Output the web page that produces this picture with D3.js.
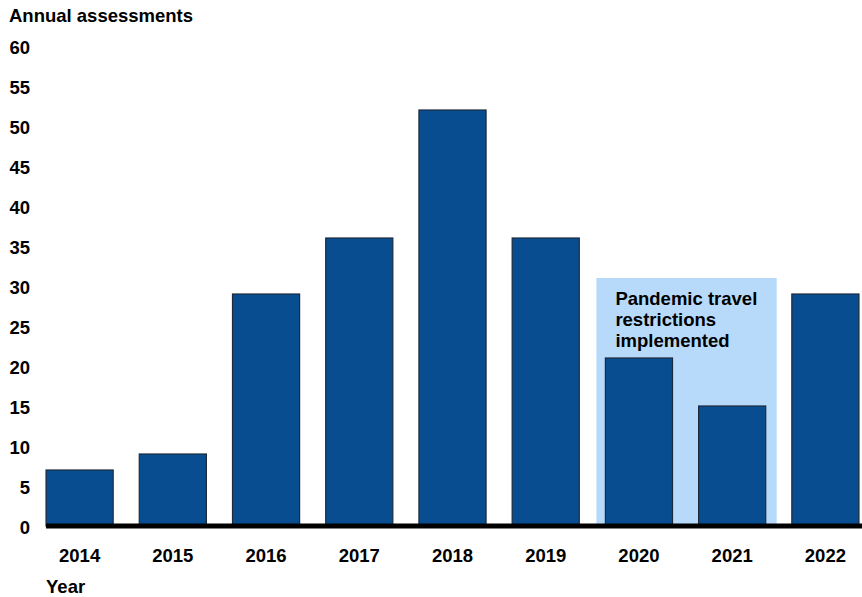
<!DOCTYPE html>
<html>
<head>
<meta charset="utf-8">
<script src="https://cdn.jsdelivr.net/npm/d3@7"></script>
<style>
  body { margin: 0; background: #fff; }
  text { font-family: "Liberation Sans", Arial, sans-serif; font-weight: bold; fill: #000; }
</style>
</head>
<body>
<svg id="chart"></svg>
<script>
var years = ['2014', '2015', '2016', '2017', '2018', '2019', '2020', '2021', '2022']
var assessments = [7, 9, 29, 36, 52, 36, 21, 15, 29]
var yTicks = [0, 5, 10, 15, 20, 25, 30, 35, 40, 45, 50, 55, 60]
var pandemicYears = ['2020', '2021']
var pandemicLabel = ['Pandemic travel', 'restrictions', 'implemented']
var pandemicTop = 31

var width = 862, height = 597
var fontSize = '18.5px'
var svg = d3.select('#chart')
    .attr('width', width)
    .attr('height', height)

var xScale = d3.scaleBand()
    .domain(years)
    .range([33, 872])
    .paddingInner(0.28)
    .paddingOuter(0.14)

var yScale = d3.scaleLinear()
    .domain([0, 60])
    .range([526, 46])

// shaded pandemic period
var p0 = xScale(pandemicYears[0]), p1 = xScale(pandemicYears[1]) + xScale.bandwidth()
svg.append('rect')
    .attr('x', p0 - 9)
    .attr('y', yScale(pandemicTop))
    .attr('width', p1 - p0 + 20)
    .attr('height', yScale(0) - yScale(pandemicTop))
    .attr('fill', '#b7dafb')

svg.selectAll('.bar')
    .data(assessments)
    .enter()
    .append('rect')
    .attr('class', 'bar')
    .attr('x', function (d, i) { return xScale(years[i]) })
    .attr('y', function (d) { return yScale(d) })
    .attr('width', xScale.bandwidth())
    .attr('height', function (d) { return yScale(0) - yScale(d) })
    .attr('fill', '#094d91')
    .attr('stroke', '#1b2a3d')
    .attr('stroke-width', 1.2)

// baseline
svg.append('line')
    .attr('x1', xScale(years[0]))
    .attr('x2', width)
    .attr('y1', yScale(0))
    .attr('y2', yScale(0))
    .attr('stroke', '#000')
    .attr('stroke-width', 5)

// y axis labels
var yAxis = d3.axisLeft(yScale)
    .tickValues(yTicks)
    .tickSize(0)
    .tickPadding(0)
var gy = svg.append('g')
    .attr('transform', 'translate(30,0)')
    .call(yAxis)
gy.select('.domain').remove()
gy.selectAll('text')
    .attr('dy', '0.4em')
    .style('font-size', fontSize)
    .style('font-family', '"Liberation Sans", Arial, sans-serif')
    .style('font-weight', 'bold')
    .attr('fill', '#000')

// x axis labels
var xAxis = d3.axisBottom(xScale)
    .tickSize(0)
    .tickPadding(0)
var gx = svg.append('g')
    .attr('transform', 'translate(0,548)')
    .call(xAxis)
gx.select('.domain').remove()
gx.selectAll('text')
    .attr('dy', '0.75em')
    .style('font-size', fontSize)
    .style('font-family', '"Liberation Sans", Arial, sans-serif')
    .style('font-weight', 'bold')
    .attr('fill', '#000')

svg.append('text')
    .attr('x', 9)
    .attr('y', 22)
    .style('font-size', fontSize)
    .text('Annual assessments')

svg.append('text')
    .attr('x', xScale(years[0]))
    .attr('y', 593)
    .style('font-size', fontSize)
    .text('Year')

svg.selectAll('.note')
    .data(pandemicLabel)
    .enter()
    .append('text')
    .attr('class', 'note')
    .attr('x', p0 + 10)
    .attr('y', function (d, i) { return 305 + i * 21 })
    .style('font-size', fontSize)
    .text(function (d) { return d })
</script>
</body>
</html>
